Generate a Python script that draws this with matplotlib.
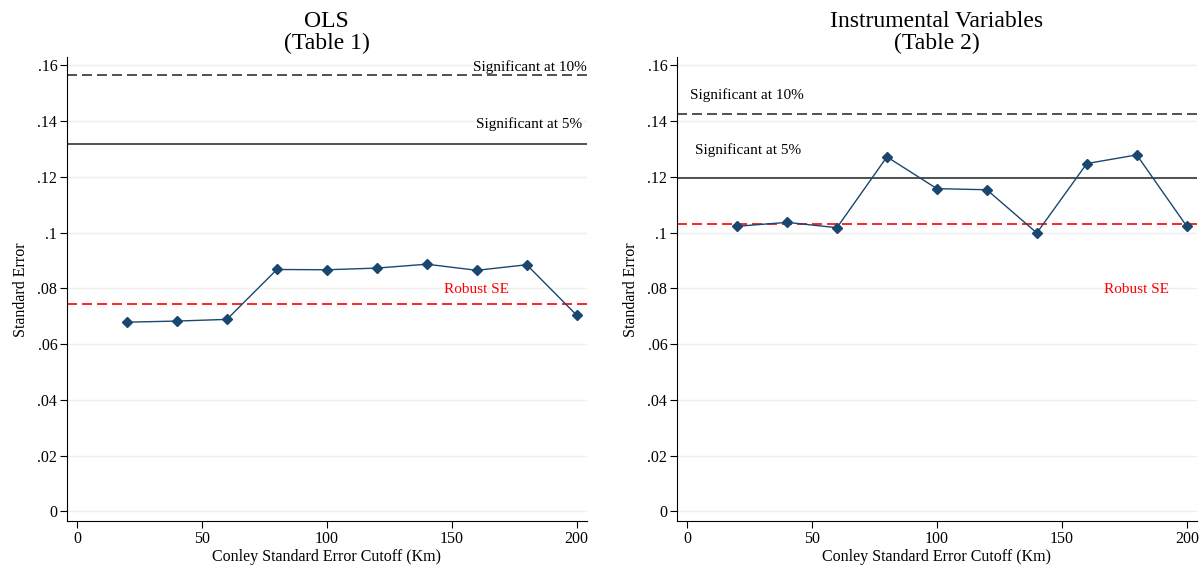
import numpy as np
import matplotlib.pyplot as plt

plt.rcParams['font.family'] = ['Liberation Serif', 'DejaVu Serif']

# Conley cutoffs (km)
cutoffs = [20, 40, 60, 80, 100, 120, 140, 160, 180, 200]

# standard errors
ols_se = [0.0679, 0.0683, 0.0689, 0.0868, 0.0867, 0.0873, 0.0887, 0.0865, 0.0885, 0.0704]
iv_se = [0.1023, 0.1037, 0.1018, 0.1272, 0.1158, 0.1154, 0.0999, 0.1248, 0.1279, 0.1023]

# reference lines: (robust SE, 5% threshold, 10% threshold)
ols_ref = (0.0745, 0.1317, 0.1567)
iv_ref = (0.1030, 0.1196, 0.1426)

titles = ['OLS\n(Table 1)', 'Instrumental Variables\n(Table 2)']
yticks = [0, 0.02, 0.04, 0.06, 0.08, 0.10, 0.12, 0.14, 0.16]
ytick_labels = ['0', '.02', '.04', '.06', '.08', '.1', '.12', '.14', '.16']
xticks = [0, 50, 100, 150, 200]

NAVY = '#1a476f'

fig = plt.figure(figsize=(12.03, 5.65), dpi=100)
ax1 = fig.add_axes([0.0557, 0.077, 0.432, 0.822])
ax2 = fig.add_axes([0.5628, 0.077, 0.432, 0.822])


def draw_panel(ax, se, ref, title, label_pos):
    robust, sig5, sig10 = ref
    for y in yticks:
        ax.axhline(y, color='#e8f0f2', lw=1.0, zorder=0)
    ax.axhline(sig10, color='#333333', lw=1.2, ls=(0, (6, 3)), zorder=1)
    ax.axhline(sig5, color='#333333', lw=1.2, zorder=1)
    ax.axhline(robust, color='#ff0000', lw=1.2, ls=(0, (6, 3)), zorder=1)
    ax.plot(cutoffs, se, color=NAVY, lw=1.0, marker='D', ms=5.5, zorder=3)

    (x10, y10, ha10), (x5, y5, ha5), (xr, yr) = label_pos
    ax.text(x10, y10, 'Significant at 10%', ha=ha10, va='center', fontsize=11)
    ax.text(x5, y5, 'Significant at 5%', ha=ha5, va='center', fontsize=11)
    ax.text(xr, yr, 'Robust SE', ha='center', va='center', fontsize=11, color='#ff0000')

    ax.set_xlim(-4, 204)
    ax.set_ylim(-0.0036, 0.163)
    ax.set_yticks(yticks)
    ax.set_yticklabels(ytick_labels)
    ax.set_xticks(xticks)
    ax.tick_params(labelsize=11.5, length=5, direction='out', pad=2)
    for s in ['top', 'right']:
        ax.spines[s].set_visible(False)
    ax.set_xlabel('Conley Standard Error Cutoff (Km)', fontsize=11.5, labelpad=1)
    ax.set_ylabel('Standard Error', fontsize=11.5, labelpad=6)
    ax.set_title(title, fontsize=17, linespacing=1.05, pad=6)


draw_panel(ax1, ols_se, ols_ref, titles[0],
           ((204, 0.1594, 'right'), (202, 0.1390, 'right'), (160, 0.0795)))
draw_panel(ax2, iv_se, iv_ref, titles[1],
           ((1, 0.1495, 'left'), (3, 0.1295, 'left'), (180, 0.0795)))

fig.savefig('out.png', dpi=100)
